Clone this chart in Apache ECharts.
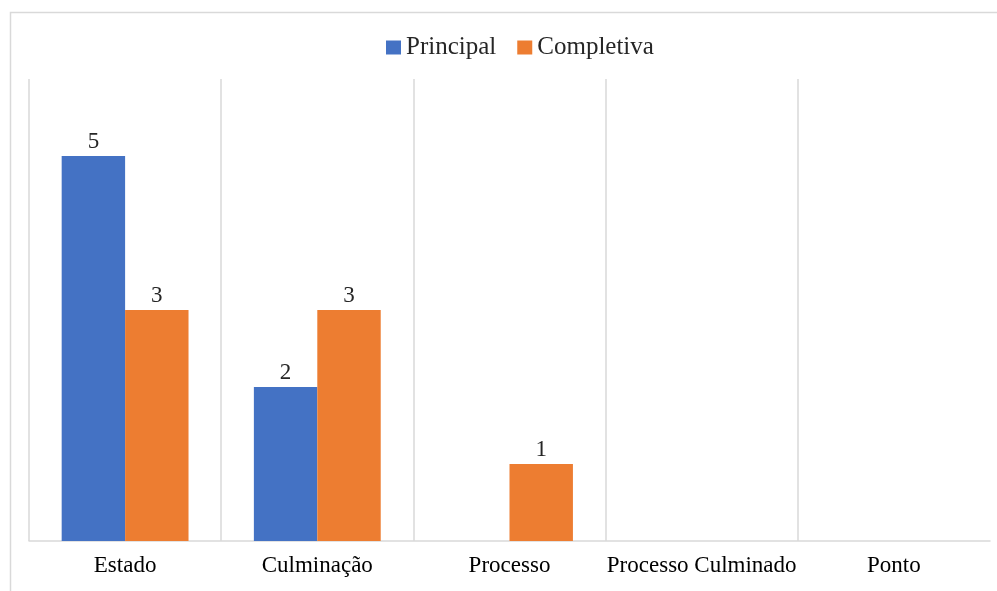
<!DOCTYPE html>
<html>
<head>
<meta charset="utf-8">
<script src="https://cdn.jsdelivr.net/npm/echarts@6/dist/echarts.min.js"></script>
<style>
  html, body { margin: 0; padding: 0; background: #ffffff; }
  #chart { width: 997px; height: 591px; }
</style>
</head>
<body>
<div id="chart"></div>
<script>
// Categories and counts per type
const categories = ['Estado', 'Culminação', 'Processo', 'Processo Culminado', 'Ponto'];
const principal = [5, 2, 0, 0, 0];
const completiva = [3, 3, 1, 0, 0];
const seriesNames = ['Principal', 'Completiva'];

const FONT = '"Liberation Serif", "Times New Roman", serif';
const GRID = '#d9d9d9';

// Hide labels for zero-valued bars
const labelFmt = p => (p.value === 0 ? '' : String(p.value));

// Category separators: every boundary except the closing right edge
const separatorColors = categories.map(() => GRID).concat(['rgba(0,0,0,0)']);

const chart = echarts.init(document.getElementById('chart'), null, { renderer: 'canvas' });
chart.setOption({
  backgroundColor: '#ffffff',
  animation: false,
  graphic: [{
    type: 'rect',
    left: 8, top: 10,
    shape: { width: 1000, height: 620 },
    style: { fill: 'none', stroke: GRID, lineWidth: 1.5 },
    silent: true
  }],
  legend: {
    top: 30,
    left: 381,
    itemWidth: 15,
    itemHeight: 14,
    itemGap: 21,
    icon: 'rect',
    textStyle: { fontFamily: FONT, fontSize: 25, color: '#262626' },
    data: seriesNames
  },
  grid: { left: 29, right: 7, top: 79, bottom: 50, containLabel: false },
  xAxis: {
    type: 'category',
    data: categories,
    axisLine: { lineStyle: { color: GRID, width: 1.5 } },
    axisTick: { show: false },
    splitLine: {
      show: true,
      interval: 0,
      lineStyle: { color: separatorColors, width: 1.5 }
    },
    axisLabel: { interval: 0, fontFamily: FONT, fontSize: 23, color: '#000000', margin: 13 }
  },
  yAxis: {
    type: 'value',
    min: 0, max: 6, interval: 1,
    show: false,
    splitLine: { show: false }
  },
  series: [
    {
      name: seriesNames[0], type: 'bar', data: principal,
      itemStyle: { color: '#4472C4' },
      barGap: '0%', barCategoryGap: '34%',
      label: { show: true, position: 'top', distance: 3, formatter: labelFmt,
               fontFamily: FONT, fontSize: 23, color: '#262626' }
    },
    {
      name: seriesNames[1], type: 'bar', data: completiva,
      itemStyle: { color: '#ED7D31' },
      barGap: '0%', barCategoryGap: '34%',
      label: { show: true, position: 'top', distance: 3, formatter: labelFmt,
               fontFamily: FONT, fontSize: 23, color: '#262626' }
    }
  ]
});
</script>
</body>
</html>
